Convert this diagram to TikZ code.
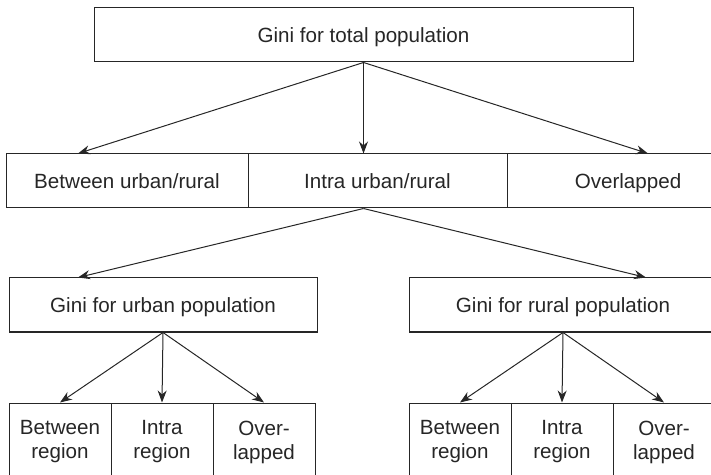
\documentclass[tikz,border=0pt]{standalone}
\usepackage{fontspec}
\setmainfont{Liberation Sans}
\usetikzlibrary{arrows.meta}
\definecolor{inkgray}{HTML}{262626}
\tikzset{
  cell/.style={draw=inkgray, line width=0.5pt, text=inkgray, inner sep=0pt, align=center, font=\fontsize{10.3}{12}\selectfont},
  oneline/.style={cell, text height=7.4pt, text depth=0pt},
  darrow/.style={-{Stealth[length=6pt,width=4.5pt]}, line width=0.5pt, draw=inkgray}
}

\begin{document}
\begin{tikzpicture}[x=0.5pt, y=-0.5pt]
    \useasboundingbox (0,0) rectangle (711,475);
    \clip (0,0) rectangle (711,475);
    \node[oneline, minimum width=269.5pt, minimum height=27pt] (total) at (363.5,35) {Gini for total population};
    \node[oneline, minimum width=121pt, minimum height=27pt] (btw) at (127,181) {Between urban/rural};
    \node[oneline, minimum width=129.5pt, minimum height=27pt] (intra) at (377.5,181) {Intra urban/rural};
    \node[oneline, minimum width=121pt, minimum height=27pt] (ovl) at (628,181) {Overlapped};
    \node[oneline, minimum width=154pt, minimum height=27pt] (urban) at (163,305) {Gini for urban population};
    \node[oneline, minimum width=154pt, minimum height=27pt] (rural) at (563,305) {Gini for rural population};
    \node[cell, minimum width=51pt, minimum height=39pt] (ub) at (60,442) {Between\\region};
    \node[cell, minimum width=51pt, minimum height=39pt] (ui) at (162,442) {Intra\\region};
    \node[cell, minimum width=51pt, minimum height=39pt] (uo) at (264,442) {Over-\\lapped};
    \node[cell, minimum width=51pt, minimum height=39pt] (rb) at (460,442) {Between\\region};
    \node[cell, minimum width=51pt, minimum height=39pt] (ri) at (562,442) {Intra\\region};
    \node[cell, minimum width=51pt, minimum height=39pt] (ro) at (664,442) {Over-\\lapped};
    \draw[darrow] (total.south) -- ([xshift=-24.5pt]btw.north);
    \draw[darrow] (total.south) -- (total.south |- intra.north);
    \draw[darrow] (total.south) -- ([xshift=10pt]ovl.north);
    \draw[darrow] (total.south |- intra.south) -- ([xshift=-42.5pt]urban.north);
    \draw[darrow] (total.south |- intra.south) -- ([xshift=41.5pt]rural.north);
    \draw[darrow] (urban.south) -- (ub.north);
    \draw[darrow] (urban.south) -- (ui.north);
    \draw[darrow] (urban.south) -- (uo.north);
    \draw[darrow] (rural.south) -- (rb.north);
    \draw[darrow] (rural.south) -- (ri.north);
    \draw[darrow] (rural.south) -- (ro.north);
  \end{tikzpicture}
\end{document}
